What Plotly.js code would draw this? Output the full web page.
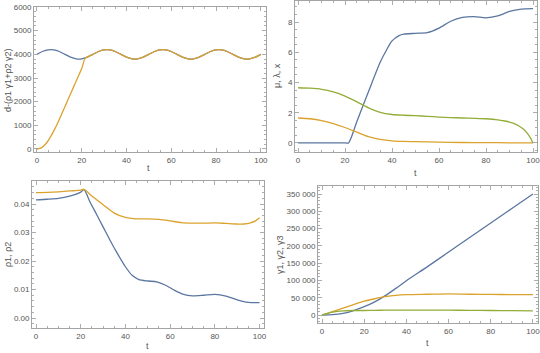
<!DOCTYPE html>
<html>
<head>
<meta charset="utf-8">
<script src="https://cdn.plot.ly/plotly-3.0.1.min.js"></script>
<style>html,body{margin:0;padding:0;background:#fff;}#chart{width:540px;height:353px;}</style>
</head>
<body>
<div id="chart"></div>
<script>
// ---- Panel 1: d-(ρ1 γ1+ρ2 γ2) ----
const p1BlueT = [0,2.5,5,7.5,10,12.5,15,17.5,20,22.5,25,27.5,30,32.5,35,37.5,40,42.5,45,47.5,50,52.5,55,57.5,60,62.5,65,67.5,70,72.5,75,77.5,80,82.5,85,87.5,90,92.5,95,97.5,100];
const p1Blue  = [4000,4120,4190,4190,4120,4000,3880,3810,3810,3880,4000,4120,4190,4190,4120,4000,3880,3810,3810,3880,4000,4120,4190,4190,4120,4000,3880,3810,3810,3880,4000,4120,4190,4190,4120,4000,3880,3810,3810,3880,4000];
const p1OrangeT = [0,2,4,6,8,10,12,14,16,18,20,21.5,22.5,25,27.5,30,32.5,35,37.5,40,42.5,45,47.5,50,52.5,55,57.5,60,62.5,65,67.5,70,72.5,75,77.5,80,82.5,85,87.5,90,92.5,95,97.5,100];
const p1Orange  = [0,50,220,500,850,1250,1680,2110,2540,2970,3400,3830,3880,4000,4120,4190,4190,4120,4000,3880,3810,3810,3880,4000,4120,4190,4190,4120,4000,3880,3810,3810,3880,4000,4120,4190,4190,4120,4000,3880,3810,3810,3880,4000];

// ---- Panel 2: μ, λ, x ----
const p2BlueT = [0,20,21.5,25,30,35,38,40,43,45,50,55,60,65,70,75,80,85,90,95,100];
const p2Blue  = [0,0,0,1.4,3.4,5.35,6.25,6.75,7.1,7.2,7.25,7.3,7.6,8.05,8.3,8.35,8.28,8.4,8.7,8.85,8.88];
const p2GreenT = [0,5,10,15,20,25,30,35,40,45,50,55,60,65,70,75,80,85,88,90,92,94,96,98,99,100];
const p2Green  = [3.65,3.62,3.55,3.38,3.1,2.72,2.32,2.02,1.88,1.83,1.8,1.76,1.71,1.68,1.65,1.63,1.6,1.53,1.45,1.38,1.28,1.12,0.9,0.55,0.3,0];
const p2OrangeT = [0,5,10,15,20,25,30,35,40,45,50,60,70,80,90,100];
const p2Orange  = [1.65,1.6,1.48,1.28,1.02,0.72,0.42,0.24,0.14,0.1,0.08,0.05,0.03,0.02,0.01,0];

// ---- Panel 3: ρ1, ρ2 ----
const p3BlueT = [0,5,10,15,20,21.5,24,27,30,33,36,40,43,46,50,54,58,62,66,70,75,80,85,90,95,100];
const p3Blue  = [0.0415,0.0417,0.042,0.0428,0.0442,0.0451,0.041,0.0365,0.032,0.0275,0.0232,0.018,0.015,0.0135,0.013,0.0127,0.0115,0.0097,0.0083,0.0078,0.008,0.0083,0.0077,0.0064,0.0055,0.0054];
const p3OrangeT = [0,5,10,15,20,21.5,25,30,35,40,45,50,55,60,65,70,75,80,85,90,93,96,98,100];
const p3Orange  = [0.044,0.0441,0.0443,0.0446,0.0449,0.0452,0.0428,0.0398,0.0368,0.0353,0.0348,0.0348,0.0346,0.0341,0.0335,0.0333,0.0333,0.0334,0.0332,0.033,0.033,0.0334,0.034,0.0352];

// ---- Panel 4: γ1, γ2, γ3 ----
const p4T = [0,5,10,15,20,25,30,35,40,50,60,70,80,90,100];
const p4Blue   = [0,1000,5000,13000,24000,38000,56000,77000,99000,140000,182000,224000,266000,308000,350000];
const p4Orange = [0,10000,20000,30000,40000,47000,53000,57000,59000,60000,61000,60000,59500,59000,59000];
const p4Green  = [0,8000,12000,13000,13000,13500,14000,14000,14000,14000,14000,13500,13000,12500,12000];

const titles = ["d-(\u03c11 \u03b31+\u03c12 \u03b32)", "\u03bc, \u03bb, x", "\u03c11, \u03c12", "\u03b31, \u03b32, \u03b33"];
const xTitle = "t";

const BLUE = "#5b76a0", ORANGE = "#dba22c", GREEN = "#93ad38";
const FONT = "Liberation Sans";

function line(x, y, color, xa, ya) {
  return {x: x, y: y, type: "scatter", mode: "lines", xaxis: xa, yaxis: ya,
          line: {color: color, width: 1.3, shape: "spline", smoothing: 0.7}, hoverinfo: "skip"};
}
const traces = [
  line(p1BlueT, p1Blue, BLUE, "x", "y"),
  line(p1OrangeT, p1Orange, ORANGE, "x", "y"),
  line(p2BlueT, p2Blue, BLUE, "x2", "y2"),
  line(p2OrangeT, p2Orange, ORANGE, "x2", "y2"),
  line(p2GreenT, p2Green, GREEN, "x2", "y2"),
  line(p3BlueT, p3Blue, BLUE, "x3", "y3"),
  line(p3OrangeT, p3Orange, ORANGE, "x3", "y3"),
  line(p4T, p4Blue, BLUE, "x4", "y4"),
  line(p4T, p4Orange, ORANGE, "x4", "y4"),
  line(p4T, p4Green, GREEN, "x4", "y4")
];

function axis(domain, range, dtick, minor, anchor, extra) {
  const a = {
    domain: domain, range: range, dtick: dtick, tick0: 0, anchor: anchor,
    ticks: "inside", ticklen: 4, tickwidth: 0.8, tickcolor: "#999",
    minor: {ticks: "inside", ticklen: 2, dtick: minor, tick0: 0, tickcolor: "#999", tickwidth: 0.8},
    mirror: "ticks", showline: true, linecolor: "#9a9a9a", linewidth: 0.9,
    showgrid: false, zeroline: false, ticklabeloverflow: "allow",
    tickfont: {family: FONT, size: 8, color: "#555"}
  };
  return Object.assign(a, extra || {});
}
function label(t, px, py, angle) {
  return {text: t, xref: "paper", yref: "paper", x: px / 540, y: 1 - py / 353,
          xanchor: "center", yanchor: "middle", textangle: angle, showarrow: false,
          font: {family: FONT, size: 9, color: "#555"}};
}

const layout = {
  width: 540, height: 353, margin: {l: 0, r: 0, t: 0, b: 0},
  paper_bgcolor: "#fff", plot_bgcolor: "#fff", showlegend: false,
  separators: ". ",
  xaxis:  axis([34/540, 266/540], [-1.3, 102.3], 20, 5, "y"),
  yaxis:  axis([201/353, 346/353], [-127, 6000], 1000, 200, "x", {tickformat: "d"}),
  xaxis2: axis([295/540, 537/540], [-1.3, 101.7], 20, 5, "y2"),
  yaxis2: axis([201/353, 352/353], [-0.6, 9.39], 2, 0.5, "x2"),
  xaxis3: axis([32/540, 264/540], [-1.8, 102], 20, 5, "y3"),
  yaxis3: axis([25/353, 172/353], [-0.0035, 0.0481], 0.01, 0.002, "x3", {tickformat: ".2f"}),
  xaxis4: axis([318/540, 538/540], [-1.9, 102.4], 20, 5, "y4"),
  yaxis4: axis([30/353, 167/353], [-23140, 373140], 50000, 10000, "x4", {tickformat: ",d"}),
  annotations: [
    label(titles[0], 8, 80, -90),
    label(titles[1], 277, 76, -90),
    label(titles[2], 8, 255, -90),
    label(titles[3], 280, 255, -90),
    label(xTitle, 148, 168, 0),
    label(xTitle, 415, 173, 0),
    label(xTitle, 147, 346, 0),
    label(xTitle, 427, 343, 0)
  ]
};

Plotly.newPlot("chart", traces, layout, {staticPlot: true, displayModeBar: false});
</script>
</body>
</html>
